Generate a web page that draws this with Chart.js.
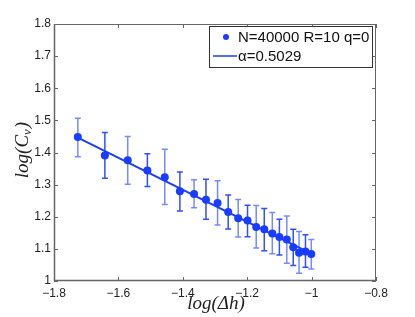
<!DOCTYPE html>
<html>
<head>
<meta charset="utf-8">
<script src="https://cdn.jsdelivr.net/npm/chart.js@4"></script>
<style>
html,body{margin:0;padding:0;background:#fff;}
#wrap{width:415px;height:317px;}
</style>
</head>
<body>
<div id="wrap"><canvas id="c" width="415" height="317"></canvas></div>
<script>
// Data
const logDh = [-1.726,-1.642,-1.571,-1.510,-1.456,-1.409,-1.365,-1.328,-1.292,-1.259,-1.228,-1.199,-1.172,-1.147,-1.122,-1.100,-1.077,-1.057,-1.039,-1.019,-1.001];
const logCv = [1.448,1.391,1.376,1.344,1.323,1.279,1.271,1.253,1.243,1.215,1.195,1.188,1.168,1.161,1.148,1.137,1.129,1.105,1.088,1.092,1.084];
const errTop = [1.507,1.462,1.450,1.396,1.410,1.339,1.315,1.317,1.312,1.268,1.254,1.236,1.235,1.226,1.213,1.192,1.202,1.161,1.154,1.144,1.129];
const errBottom = [1.387,1.320,1.301,1.294,1.238,1.218,1.228,1.192,1.174,1.162,1.137,1.138,1.103,1.094,1.085,1.081,1.055,1.048,1.024,1.043,1.037];
const fitX = [-1.726,-1.001];
const fitY = [1.446,1.085];
const xTicks = [-1.8,-1.6,-1.4,-1.2,-1.0,-0.8];
const yTicks = [1.0,1.1,1.2,1.3,1.4,1.5,1.6,1.7,1.8];
const seriesLabel = 'N=40000 R=10 q=0';
const fitLabel = '\u03B1=0.5029';

const BLUE = '#1a3cff';
const FRAME = '#666666';

function fmt(v){
  const r = Math.round(v*10)/10;
  return String(r).replace('-', '\u2212');
}

const framePlugin = {
  id: 'framePlugin',
  beforeDatasetsDraw(chart){
    const ctx = chart.ctx, xs = chart.scales.x, ys = chart.scales.y;
    ctx.save();
    ctx.strokeStyle = BLUE;
    ctx.lineWidth = 1.5;
    for (let i = 0; i < logDh.length; i++) {
      const px = xs.getPixelForValue(logDh[i]);
      const pt = ys.getPixelForValue(errTop[i]);
      const pb = ys.getPixelForValue(errBottom[i]);
      ctx.globalAlpha = (i % 2 === 0) ? 0.6 : 0.9;
      ctx.beginPath();
      ctx.moveTo(px, pt); ctx.lineTo(px, pb);
      ctx.moveTo(px-3, pt); ctx.lineTo(px+3, pt);
      ctx.moveTo(px-3, pb); ctx.lineTo(px+3, pb);
      ctx.stroke();
    }
    ctx.restore();
  },
  afterDraw(chart){
    const ctx = chart.ctx, a = chart.chartArea, xs = chart.scales.x, ys = chart.scales.y;
    ctx.save();
    // frame
    ctx.strokeStyle = FRAME;
    ctx.lineWidth = 1;
    ctx.strokeRect(a.left+0.5, a.top+0.5, a.right-a.left-1, a.bottom-a.top-1);
    ctx.lineWidth = 1.5;
    ctx.beginPath();
    ctx.moveTo(a.left+0.5, a.top); ctx.lineTo(a.left+0.5, a.bottom);
    ctx.moveTo(a.left, a.bottom-0.5); ctx.lineTo(a.right, a.bottom-0.5);
    ctx.stroke();
    // inward ticks
    ctx.lineWidth = 1;
    ctx.beginPath();
    const tl = 4;
    xTicks.forEach(v => {
      const p = Math.round(xs.getPixelForValue(v)) + 0.5;
      ctx.moveTo(p, a.bottom); ctx.lineTo(p, a.bottom - tl);
      ctx.moveTo(p, a.top); ctx.lineTo(p, a.top + tl);
    });
    yTicks.forEach(v => {
      const p = Math.round(ys.getPixelForValue(v)) + 0.5;
      ctx.moveTo(a.left, p); ctx.lineTo(a.left + tl, p);
      ctx.moveTo(a.right, p); ctx.lineTo(a.right - tl, p);
    });
    ctx.stroke();

    // axis titles
    ctx.fillStyle = '#222';
    ctx.textBaseline = 'alphabetic';
    const TF = 'italic 19px "Liberation Serif"';
    const SF = 'italic 13px "Liberation Serif"';
    // x title: log(Δh)
    ctx.font = TF;
    const xt1 = 'log(', xt2 = 'Δh', xt3 = ')';
    const w1 = ctx.measureText(xt1).width;
    const w2 = ctx.measureText(xt2).width;
    const w3 = ctx.measureText(xt3).width;
    let sx = 216 - (w1+w2+w3)/2;
    const by = 309;
    ctx.fillText(xt1, sx, by);
    ctx.fillText(xt2, sx + w1, by);
    ctx.fillText(xt3, sx + w1 + w2, by);

    // y title: log(C_v)
    ctx.save();
    ctx.translate(28, 150);
    ctx.rotate(-Math.PI/2);
    ctx.font = TF;
    const y1 = 'log(C', y3 = ')';
    const yw1 = ctx.measureText(y1).width, yw3 = ctx.measureText(y3).width;
    ctx.font = SF;
    const ysw = ctx.measureText('v').width;
    let yx = -(yw1 + ysw + 1 + yw3)/2;
    ctx.font = TF;
    ctx.fillText(y1, yx, 0);
    ctx.font = SF;
    ctx.fillText('v', yx + yw1, 3);
    ctx.font = TF;
    ctx.fillText(y3, yx + yw1 + ysw + 1, 0);
    ctx.restore();

    // legend
    const lx = 209, ly = 26, lw = 163, lh = 41;
    ctx.fillStyle = '#fff';
    ctx.fillRect(lx, ly, lw, lh);
    ctx.strokeStyle = '#333';
    ctx.lineWidth = 1;
    ctx.strokeRect(lx+0.5, ly+0.5, lw, lh);
    ctx.fillStyle = BLUE;
    ctx.beginPath();
    ctx.arc(226, 37, 3, 0, Math.PI*2);
    ctx.fill();
    ctx.strokeStyle = BLUE;
    ctx.lineWidth = 1.5;
    ctx.beginPath();
    ctx.moveTo(213, 56); ctx.lineTo(237, 56);
    ctx.stroke();
    ctx.fillStyle = '#111';
    ctx.font = '15px "Liberation Sans"';
    ctx.textBaseline = 'middle';
    ctx.fillText(seriesLabel, 238, 37.5);
    ctx.fillText(fitLabel, 238, 56.5);
    ctx.restore();
  }
};

new Chart(document.getElementById('c'), {
  type: 'scatter',
  data: {
    datasets: [
      {
        label: fitLabel,
        type: 'line',
        data: fitX.map((x, i) => ({x: x, y: fitY[i]})),
        borderColor: BLUE,
        borderWidth: 2,
        pointRadius: 0,
        fill: false
      },
      {
        label: seriesLabel,
        data: logDh.map((x, i) => ({x: x, y: logCv[i]})),
        backgroundColor: BLUE,
        borderColor: BLUE,
        pointRadius: 4,
        pointBorderWidth: 0
      }
    ]
  },
  options: {
    responsive: false,
    animation: false,
    devicePixelRatio: 1,
    layout: { padding: { left: 0, right: 39, top: 24, bottom: 0 } },
    plugins: { legend: { display: false }, tooltip: { enabled: false } },
    scales: {
      x: {
        type: 'linear', min: -1.8, max: -0.8,
        afterBuildTicks(s){ s.ticks = xTicks.map(v => ({value: v})); },
        afterFit(s){ s.height = 36; },
        grid: { display: false, drawTicks: false },
        border: { display: false },
        ticks: { callback: v => fmt(v), font: { family: 'Liberation Sans', size: 12 }, color: '#222', padding: 5, maxRotation: 0, autoSkip: false }
      },
      y: {
        type: 'linear', min: 1.0, max: 1.8,
        afterBuildTicks(s){ s.ticks = yTicks.map(v => ({value: v})); },
        afterFit(s){ s.width = 54; },
        grid: { display: false, drawTicks: false },
        border: { display: false },
        ticks: { callback: v => fmt(v), font: { family: 'Liberation Sans', size: 12 }, color: '#222', padding: 3, autoSkip: false }
      }
    }
  },
  plugins: [framePlugin]
});
</script>
</body>
</html>
